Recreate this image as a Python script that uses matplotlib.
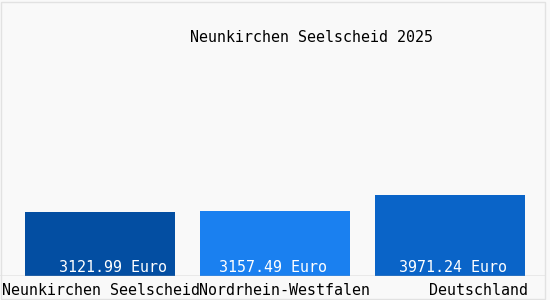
import matplotlib
matplotlib.use("Agg")
import matplotlib.pyplot as plt
import matplotlib.transforms as mtransforms
from matplotlib.patches import Rectangle

# Daten
regionen = ["Neunkirchen Seelscheid", "Nordrhein-Westfalen", "Deutschland"]
werte = [3121.99, 3157.49, 3971.24]
farben = ["#034ea2", "#1a80f0", "#0a64c8"]
titel = "Neunkirchen Seelscheid 2025"

plt.rcParams["font.family"] = ["DejaVu Sans Mono"]
fs = 10.8

fig = plt.figure(figsize=(5.5, 3.0), dpi=100)
fig.patch.set_facecolor("#f9f9f9")
# heller Rahmen
fig.patches.append(Rectangle((1 / 550, 0.005), 544 / 550, 0.99, transform=fig.transFigure,
                             fill=False, edgecolor="#e2e2e2", linewidth=1))

ax = fig.add_axes([0, 24 / 300, 545 / 550, 275 / 300])
ax.set_facecolor("none")
x = list(range(len(regionen)))
bars = ax.bar(x, werte, width=150 / 175, color=farben, zorder=2)
ax.set_xlim(-100 / 175, 2 + 95 / 175)
ax.set_ylim(0, 13400)
ax.axhline(0, color="#a8a8a8", linewidth=1, zorder=3)
for s in ax.spines.values():
    s.set_visible(False)
ax.set_yticks([])

# Werte in den Balken (Versatz in Pixeln)
wert_versatz = [13, -2, 3]
for b, w, dx in zip(bars, werte, wert_versatz):
    ax.annotate(f"{w:.2f} Euro", (b.get_x() + b.get_width() / 2, 0),
                xytext=(dx * 0.72, 6), textcoords="offset points", ha="center", va="center",
                color="white", fontsize=fs)

# Beschriftungen unter den Balken
ax.set_xticks(x)
ax.set_xticklabels(regionen, fontsize=fs)
ax.tick_params(axis="x", length=0, pad=5)
label_versatz = [1, 10, 28]
for lbl, dx in zip(ax.get_xticklabels(), label_versatz):
    lbl.set_transform(lbl.get_transform() + mtransforms.ScaledTranslation(dx / 100, 0, fig.dpi_scale_trans))

fig.text(311 / 550, 1 - 38 / 300, titel, ha="center", va="center", fontsize=fs)

fig.savefig("out.png", dpi=100, facecolor=fig.get_facecolor())
